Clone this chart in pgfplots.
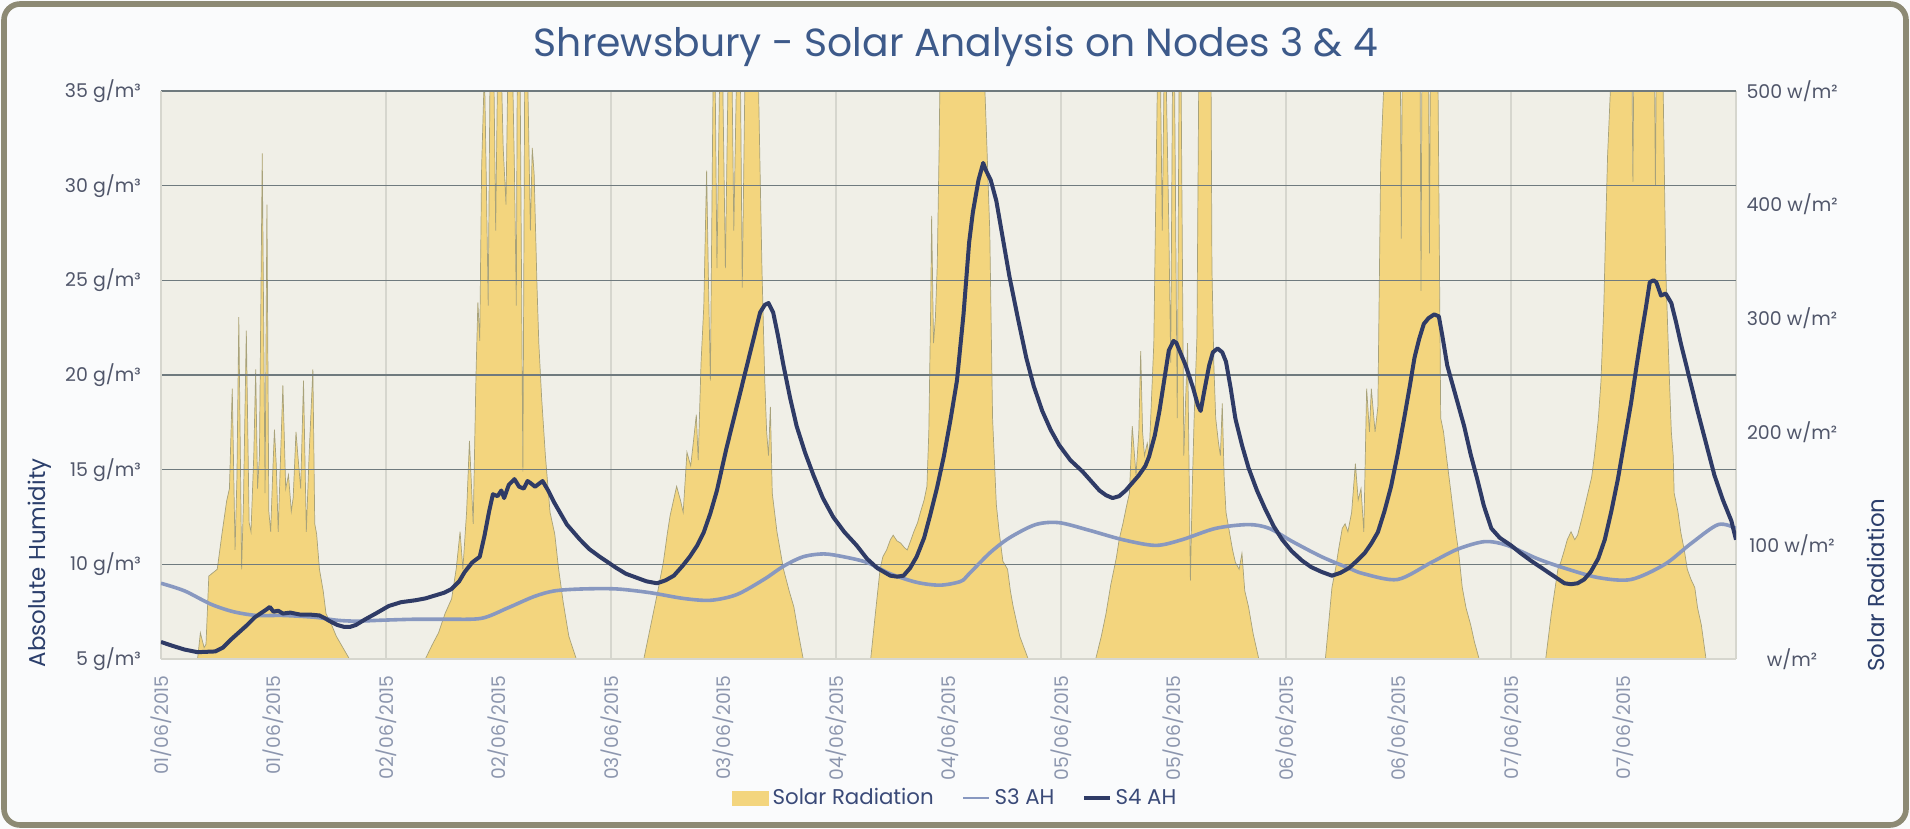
\documentclass[border=0pt]{standalone}
\usepackage{fontspec}
\setmainfont{Poppins}
\usepackage{pgfplots}
\pgfplotsset{compat=1.18}
\usepackage{pgfplotstable}

\definecolor{pagebg}{HTML}{FAFBFC}
\definecolor{frame}{HTML}{8D8A74}
\definecolor{titleblue}{HTML}{3D5A8A}
\definecolor{labelblue}{HTML}{2B3E6B}
\definecolor{ticktext}{HTML}{50566A}
\definecolor{xticktext}{HTML}{8C96AE}
\definecolor{plotbg}{HTML}{F0EFE7}
\definecolor{hgrid}{HTML}{6F7A7E}
\definecolor{vgrid}{HTML}{D6D6CE}
\definecolor{solarfill}{HTML}{F3D57E}
\definecolor{solaredge}{HTML}{A8A27A}
\definecolor{sthree}{HTML}{8898C0}
\definecolor{sfour}{HTML}{2F3B66}
\definecolor{legendtext}{HTML}{3A4A78}

\pgfplotstableread{
h w
0 0
3.9 0
4.2 23
4.6 10
4.8 13
5.1 73
6.0 79
6.5 110
7.0 139
7.3 150
7.6 238
7.9 96
8.1 160
8.3 301
8.6 79
8.8 140
9.1 289
9.4 120
9.6 112
9.9 180
10.1 255
10.3 150
10.5 179
10.8 445
11.1 146
11.3 400
11.5 130
11.7 112
11.9 160
12.1 202
12.3 170
12.5 112
12.8 190
13.0 241
13.3 150
13.6 162
13.9 130
14.1 142
14.4 200
14.6 179
14.9 150
15.2 245
15.5 112
15.8 180
16.2 255
16.4 119
16.6 110
16.9 79
17.3 60
17.6 40
18.2 30
18.7 20
19.4 10
20.1 0
28.2 0
28.9 12
29.6 23
30.3 40
31.0 53
31.5 80
31.9 112
32.2 79
32.6 130
32.9 192
33.3 119
33.6 250
33.8 314
34.0 280
34.2 433
34.5 520
34.7 420
34.9 311
35.1 520
35.5 520
35.7 377
35.9 520
36.3 520
36.5 450
36.8 400
37.0 520
37.5 520
37.7 430
37.9 311
38.0 520
38.3 520
38.6 165
38.8 520
39.1 520
39.4 377
39.6 450
39.8 427
40.1 330
40.3 278
40.6 230
41.0 179
41.5 129
42.0 110
42.4 80
42.9 50
43.5 20
44.3 0
51.5 0
52.0 20
52.5 40
53.0 60
53.6 86
54.0 110
54.3 126
55.0 152
55.4 140
55.7 129
56.1 182
56.5 170
56.8 192
57.1 215
57.3 175
57.6 260
57.9 311
58.2 430
58.4 330
58.6 245
58.9 520
59.1 520
59.3 344
59.6 520
59.9 520
60.2 344
60.5 520
60.9 520
61.1 377
61.4 520
61.8 520
62.0 327
62.3 520
63.7 520
63.9 430
64.1 344
64.4 245
64.6 200
64.8 179
65.0 222
65.2 146
65.7 112
66.4 79
67.0 60
67.5 46
68.0 22
68.5 0
75.7 0
76.2 40
76.7 79
77.0 90
77.4 96
77.8 105
78.1 109
78.5 104
78.9 102
79.3 98
79.6 96
80.0 105
80.3 112
80.7 120
81.0 129
81.4 140
81.7 152
81.9 200
82.1 311
82.2 390
82.4 278
82.6 300
82.8 347
83.0 450
83.1 520
87.8 520
88.1 450
88.4 377
88.7 212
89.1 136
89.4 112
89.8 86
90.3 79
90.6 60
90.9 46
91.6 20
92.5 0
99.7 0
100.3 20
100.8 40
101.3 65
101.9 89
102.2 105
102.6 119
103.0 135
103.3 146
103.6 205
104.0 162
104.3 200
104.5 271
104.7 200
104.9 179
105.2 190
105.4 179
105.9 278
106.1 400
106.3 520
106.6 520
106.8 377
107.0 520
107.2 520
107.5 380
107.7 261
107.9 520
108.1 520
108.4 212
108.6 520
108.8 520
109.1 179
109.3 230
109.5 278
109.8 69
110.0 150
110.2 212
110.5 284
110.7 520
112.0 520
112.1 344
112.3 260
112.5 212
112.8 190
113.0 179
113.2 225
113.4 160
113.6 129
114.0 110
114.3 96
114.6 85
115.0 79
115.3 93
115.6 60
116.0 46
116.5 22
117.1 0
124.2 0
124.9 63
125.3 80
125.6 96
126.0 115
126.3 119
126.6 112
127.0 129
127.4 172
127.7 140
128.0 150
128.3 112
128.6 238
128.9 200
129.1 238
129.5 200
129.8 222
130.1 437
130.5 520
132.2 520
132.3 370
132.4 520
134.3 520
134.4 324
134.5 520
135.2 520
135.3 357
135.4 520
136.2 520
136.5 212
136.8 200
137.1 179
137.6 146
138.1 112
138.4 95
138.8 63
139.2 45
139.7 30
140.1 15
140.6 0
147.7 0
148.3 40
149.0 79
149.3 85
149.7 96
150.0 105
150.4 112
150.8 105
151.1 109
151.6 125
152.2 146
152.6 160
152.9 179
153.3 210
153.6 245
153.9 311
154.1 380
154.3 443
154.7 520
156.9 520
157.0 420
157.1 520
159.3 520
159.4 417
159.5 520
160.2 520
160.5 344
160.9 245
161.1 200
161.3 179
161.4 146
161.8 130
162.1 112
162.5 95
162.8 79
163.2 70
163.6 63
163.9 45
164.3 30
164.8 0
168 0
}\solar

\pgfplotstableread{
h g
0 9.0
2.5 8.6
5.3 7.9
7.7 7.5
10.2 7.3
13 7.3
16.5 7.2
18.7 7.05
20.8 7.0
23.6 7.05
27.1 7.1
30.6 7.1
34.2 7.15
37 7.7
39.8 8.3
42 8.6
45 8.7
48.6 8.7
52.2 8.5
55.7 8.2
58.6 8.1
61.4 8.4
64.3 9.2
66.4 9.9
68.5 10.4
70.7 10.55
72.8 10.4
75.3 10.1
77.8 9.5
80.6 9.05
83.1 8.9
85.3 9.1
86.2 9.5
88.4 10.6
90.5 11.4
93.3 12.1
95.8 12.2
99.0 11.8
102.6 11.3
106.1 11.0
108.9 11.3
112.5 11.9
116.0 12.1
118.2 11.9
120.7 11.2
123.8 10.4
126.7 9.8
128.3 9.5
131.9 9.2
135.5 10.1
138.3 10.8
141.2 11.2
143.6 11.0
146.8 10.3
149.7 9.8
153.3 9.3
156.8 9.2
160.4 10.0
163.2 11.1
166.1 12.1
168 11.9
}\sthreedata

\pgfplotstableread{
h g
0 5.9
1.2 5.7
2.5 5.5
3.9 5.36
5.8 5.4
6.6 5.6
7.4 6.0
8.3 6.4
9.2 6.8
10.0 7.2
10.6 7.4
11.2 7.6
11.6 7.75
12.0 7.5
12.5 7.55
13.0 7.4
13.8 7.45
14.8 7.35
15.8 7.35
16.9 7.3
17.5 7.15
18.0 7.0
18.8 6.8
19.5 6.7
20.2 6.7
20.8 6.8
21.8 7.1
22.9 7.4
24.3 7.8
25.6 8.0
27.1 8.1
28.2 8.2
29.2 8.35
30.2 8.5
31.0 8.7
31.8 9.1
32.4 9.6
33.2 10.1
34.0 10.4
34.5 11.5
35.0 12.8
35.4 13.7
35.9 13.6
36.3 13.9
36.6 13.5
37.1 14.2
37.7 14.5
38.2 14.1
38.7 14.0
39.1 14.4
39.4 14.3
39.9 14.1
40.7 14.4
41.3 13.9
41.9 13.3
42.6 12.7
43.3 12.1
44.0 11.7
44.7 11.3
45.7 10.8
46.8 10.4
47.7 10.1
48.6 9.8
49.6 9.5
50.7 9.3
51.8 9.1
52.9 9.0
53.8 9.15
54.7 9.4
55.6 9.9
56.4 10.4
57.2 11.0
57.9 11.7
58.6 12.7
59.3 13.9
60.3 16.1
61.4 18.3
62.1 19.7
62.8 21.1
63.4 22.3
63.9 23.3
64.4 23.7
64.8 23.8
65.3 23.3
65.8 22.1
66.4 20.5
67.1 18.8
67.8 17.3
68.7 15.9
69.6 14.7
70.6 13.5
71.7 12.5
72.9 11.7
74.2 11.0
75.3 10.3
76.4 9.8
77.8 9.4
78.5 9.35
79.2 9.4
79.9 9.8
80.6 10.4
81.4 11.4
82.1 12.7
82.8 14.1
83.5 15.7
84.2 17.6
84.9 19.7
85.6 23.2
86.2 27.0
86.6 28.6
87.2 30.3
87.7 31.2
88.0 30.8
88.5 30.3
89.1 29.2
89.8 27.2
90.5 25.2
91.4 23.0
92.3 20.9
93.1 19.4
94.0 18.1
94.9 17.1
95.8 16.3
97.0 15.5
98.3 14.9
99.2 14.4
100.1 13.9
100.8 13.65
101.5 13.5
102.2 13.6
102.9 13.9
103.6 14.3
104.3 14.7
105.0 15.2
105.4 15.7
106.0 16.8
106.5 18.1
107.0 19.7
107.5 21.3
108.0 21.8
108.3 21.7
108.8 21.1
109.3 20.5
110.1 19.3
110.6 18.4
110.9 18.1
111.3 19.2
111.8 20.5
112.2 21.2
112.7 21.4
113.2 21.2
113.6 20.7
114.1 19.3
114.6 17.7
115.3 16.3
116.0 15.1
116.9 13.9
117.8 12.9
118.7 12.0
119.6 11.3
120.6 10.7
121.7 10.2
122.7 9.85
123.8 9.6
124.9 9.4
125.8 9.55
126.7 9.8
127.6 10.2
128.4 10.6
129.1 11.1
129.8 11.7
130.5 12.8
131.2 14.1
131.9 15.8
132.6 17.7
133.2 19.4
133.7 20.9
134.2 21.9
134.7 22.7
135.2 23.0
135.8 23.2
136.3 23.1
136.7 22.0
137.2 20.5
138.1 18.9
139.0 17.3
139.7 15.8
140.4 14.5
141.1 13.1
141.9 11.9
142.8 11.4
144.0 11.0
145.0 10.6
146.1 10.2
147.0 9.9
147.9 9.6
148.8 9.3
149.7 9.0
150.4 8.95
151.1 9.0
151.8 9.2
152.5 9.6
153.3 10.3
154.0 11.3
154.7 12.8
155.4 14.5
156.1 16.5
156.8 18.5
157.4 20.5
157.9 22.1
158.4 23.6
158.8 24.9
159.2 25.0
159.5 24.9
160.0 24.2
160.5 24.3
161.1 23.8
161.6 22.8
162.1 21.7
163.0 19.9
163.9 18.1
164.8 16.4
165.7 14.7
166.6 13.4
167.5 12.3
168 11.3
}\sfourdata

\begin{document}
\begin{tikzpicture}
\useasboundingbox (0,0) rectangle (955bp,414.5bp);
\fill[pagebg] (0,0) rectangle (955bp,414.5bp);
\draw[frame, line width=2.8bp, rounded corners=8bp] (2bp,2bp) rectangle (953bp,412.5bp);
\node[text=titleblue, font=\fontsize{19.7}{24}\selectfont] at (478bp,391bp) {Shrewsbury - Solar Analysis on Nodes 3 \& 4};
\node[rotate=90, text=labelblue, font=\fontsize{11.5}{14}\selectfont] at (20bp,133bp) {Absolute Humidity};
\node[rotate=90, text=labelblue, font=\fontsize{11.5}{14}\selectfont] at (938bp,122bp) {Solar Radiation};

% right axis: solar radiation
\begin{axis}[
  at={(80.5bp,85bp)}, anchor=south west,
  scale only axis, width=787.5bp, height=284bp,
  xmin=0, xmax=168, ymin=0, ymax=500,
  axis y line*=right, axis x line*=bottom,
  axis line style={draw=vgrid, line width=0.6bp},
  axis background/.style={fill=plotbg},
  xtick={24,48,...,144}, xticklabels={},
  xmajorgrids, major grid style={draw=vgrid, line width=0.7bp},
  major tick length=0pt,
  ytick={0,100,...,500},
  yticklabels={w/m², 100 w/m², 200 w/m², 300 w/m², 400 w/m², 500 w/m²},
  yticklabel style={anchor=center, xshift=28bp, text=ticktext, font=\fontsize{9.5}{11}\selectfont},
]
\addplot[fill=solarfill, draw=solaredge, line width=0.35bp] table[x=h, y=w] {\solar} \closedcycle;
\end{axis}

% left axis: absolute humidity
\begin{axis}[
  at={(80.5bp,85bp)}, anchor=south west,
  scale only axis, width=787.5bp, height=284bp,
  xmin=0, xmax=168, ymin=5, ymax=35,
  axis y line*=left, axis x line*=bottom,
  axis line style={draw=vgrid, line width=0.6bp},
  ytick={5,10,...,35},
  yticklabels={5 g/m³, 10 g/m³, 15 g/m³, 20 g/m³, 25 g/m³, 30 g/m³, 35 g/m³},
  yticklabel style={anchor=east, inner xsep=10bp, text=ticktext, font=\fontsize{9.5}{11}\selectfont},
  ymajorgrids, major grid style={draw=hgrid, line width=0.6bp},
  major tick length=0pt,
  xtick={0,12,...,156},
  xticklabels={01/06/2015,01/06/2015,02/06/2015,02/06/2015,03/06/2015,03/06/2015,04/06/2015,04/06/2015,05/06/2015,05/06/2015,06/06/2015,06/06/2015,07/06/2015,07/06/2015},
  xticklabel style={rotate=90, anchor=east, inner xsep=8bp, text=xticktext, font=\fontsize{9.4}{11}\selectfont},
  legend columns=3,
  legend style={at={(0.5048,-0.2447)}, anchor=center, draw=none, fill=none,
    font=\fontsize{10.7}{13}\selectfont, text=legendtext,
    /tikz/every even column/.append style={column sep=12bp}},
]
\addlegendimage{legend image code/.code={\fill[solarfill] (0bp,-3.5bp) rectangle (18bp,3.5bp);}}
\addlegendentry{Solar Radiation}
\addplot[sthree, line width=1.8bp, smooth, legend image code/.code={\draw[sthree, line width=1.4bp] (0bp,0bp) -- (13bp,0bp);}] table[x=h, y=g] {\sthreedata};
\addlegendentry{S3 AH}
\addplot[sfour, line width=2bp, line join=round, legend image code/.code={\draw[sfour, line width=1.6bp] (0bp,0bp) -- (13bp,0bp);}] table[x=h, y=g] {\sfourdata};
\addlegendentry{S4 AH}
\end{axis}
\end{tikzpicture}
\end{document}
